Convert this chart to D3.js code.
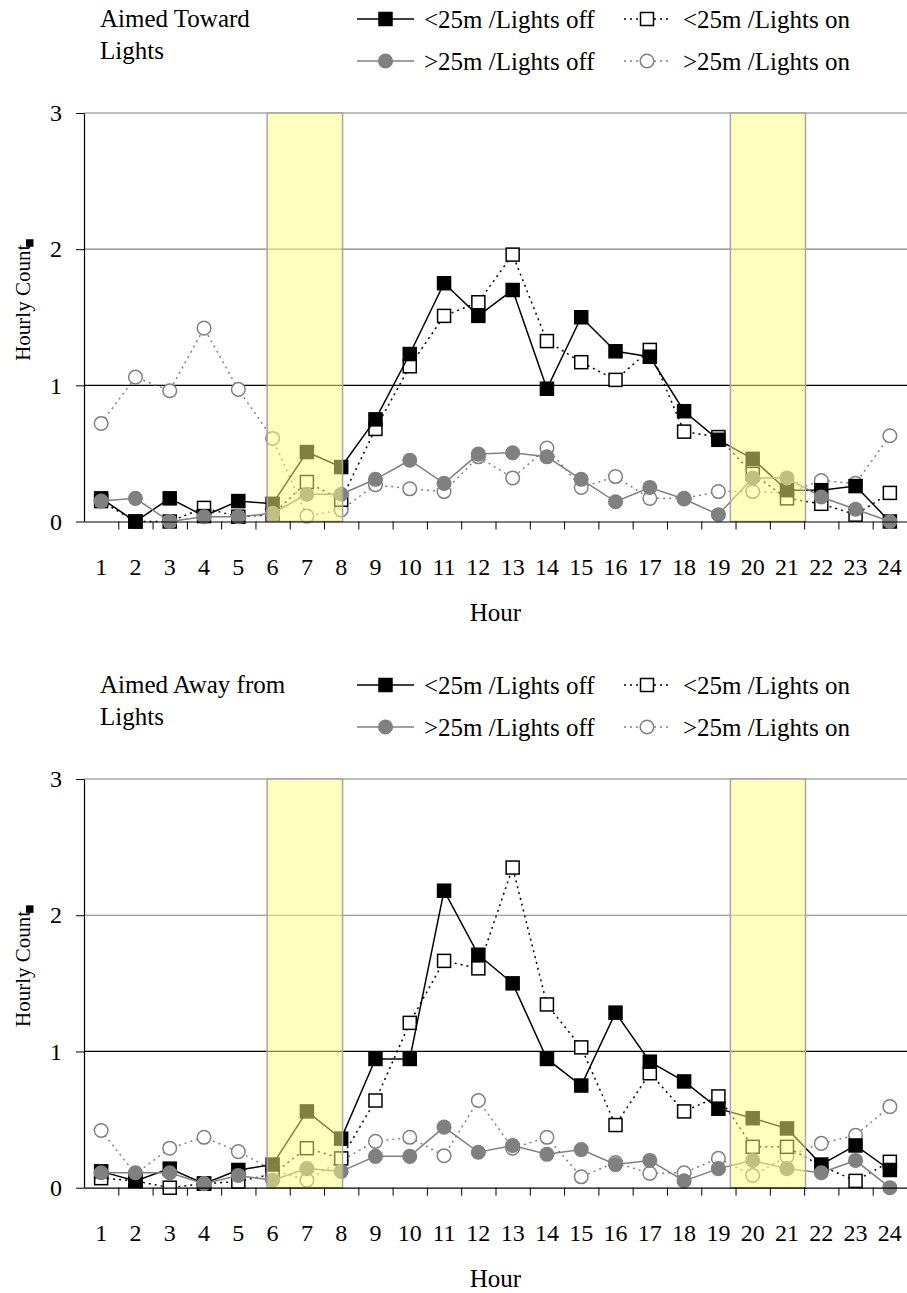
<!DOCTYPE html>
<html>
<head>
<meta charset="utf-8">
<script src="https://cdn.jsdelivr.net/npm/d3@7"></script>
<style>
  html, body { margin: 0; padding: 0; background: #fff; }
  svg { display: block; }
  text { font-family: "Liberation Serif", "Times New Roman", serif; fill: #000; }
</style>
</head>
<body>
<svg id="chart" width="907" height="1293"></svg>
<script>
// ---------- data ----------
const hours = d3.range(1, 25);
const seriesNames = ["<25m /Lights off", "<25m /Lights on", ">25m /Lights off", ">25m /Lights on"];

// Aimed Toward Lights
const towardNearOff = [0.17,0.00,0.17,0.04,0.15,0.13,0.51,0.40,0.75,1.23,1.75,1.51,1.70,0.975,1.50,1.25,1.21,0.81,0.60,0.46,0.23,0.23,0.26,0.00];
const towardNearOn  = [0.15,0.00,0.00,0.10,0.035,0.05,0.29,0.16,0.68,1.14,1.51,1.61,1.96,1.325,1.17,1.04,1.26,0.66,0.62,0.35,0.17,0.13,0.05,0.21];
const towardFarOff  = [0.15,0.17,0.00,0.035,0.035,0.06,0.20,0.20,0.31,0.45,0.28,0.495,0.505,0.475,0.31,0.145,0.25,0.165,0.05,0.32,0.32,0.18,0.09,0.00];
const towardFarOn   = [0.72,1.06,0.96,1.42,0.97,0.61,0.04,0.085,0.27,0.24,0.22,0.475,0.32,0.54,0.25,0.33,0.17,0.17,0.22,0.22,0.21,0.30,0.28,0.63];

// Aimed Away from Lights
const awayNearOff = [0.12,0.05,0.14,0.03,0.13,0.17,0.56,0.36,0.945,0.945,2.18,1.71,1.50,0.945,0.75,1.285,0.925,0.78,0.58,0.51,0.435,0.17,0.31,0.13];
const awayNearOn  = [0.07,0.05,0.00,0.03,0.045,0.10,0.29,0.215,0.64,1.21,1.665,1.61,2.35,1.345,1.03,0.46,0.84,0.56,0.67,0.30,0.30,0.16,0.05,0.19];
const awayFarOff  = [0.11,0.11,0.11,0.03,0.09,0.055,0.14,0.12,0.23,0.23,0.445,0.26,0.31,0.245,0.28,0.17,0.20,0.05,0.14,0.20,0.14,0.11,0.20,0.00];
const awayFarOn   = [0.42,0.10,0.29,0.37,0.265,0.13,0.055,0.20,0.34,0.37,0.235,0.64,0.29,0.37,0.08,0.185,0.105,0.11,0.215,0.09,0.23,0.325,0.385,0.595];

// shaded dawn / dusk periods (in hour-axis units)
const shadedPeriods = [[5.84, 8.04], [19.35, 21.54]];
const yTicks = [0, 1, 2, 3];

// ---------- drawing ----------
const svg = d3.select("#chart");
const FS = 25;      // legend / titles / axis title
const TFS = 24;     // tick labels
const YFS = 21;     // y axis title

const styles = [
  { marker: "square", fill: "#000", stroke: "#000", line: "#000", dash: null },
  { marker: "square", fill: "#fff", stroke: "#000", line: "#000", dash: "2,4" },
  { marker: "circle", fill: "#808080", stroke: "#808080", line: "#808080", dash: null },
  { marker: "circle", fill: "#fff", stroke: "#808080", line: "#808080", dash: "2,4" }
];
const drawOrder = [3, 1, 0, 2];

function drawMarker(g, type, cx, cy, st) {
  if (type === "square") {
    g.append("rect").attr("x", cx - 6.5).attr("y", cy - 6.5).attr("width", 13).attr("height", 13)
      .attr("fill", st.fill).attr("stroke", st.stroke).attr("stroke-width", 1.5);
  } else {
    g.append("circle").attr("cx", cx).attr("cy", cy).attr("r", 6.8)
      .attr("fill", st.fill).attr("stroke", st.stroke).attr("stroke-width", 1.5);
  }
}

function panel(opts) {
  const { top, bottom, left, right, data, title1, title2, legTop } = opts;
  const x = d3.scaleLinear().domain([0.5, 24.5]).range([left, right]);
  const y = d3.scaleLinear().domain([0, 3]).range([bottom, top]);
  const g = svg.append("g");

  // gridlines
  g.append("g").selectAll("line").data(yTicks.filter(d => d > 0)).join("line")
    .attr("x1", left).attr("x2", right)
    .attr("y1", d => y(d)).attr("y2", d => y(d))
    .attr("stroke", d => d === 1 ? "#000" : "#808080").attr("stroke-width", 1.2);

  // series
  const lineGen = d3.line().x((d, i) => x(hours[i])).y(d => y(d));
  drawOrder.forEach(si => {
    const st = styles[si];
    const sg = g.append("g");
    sg.append("path").datum(data[si]).attr("d", lineGen)
      .attr("fill", "none").attr("stroke", st.line).attr("stroke-width", 1.5)
      .attr("stroke-dasharray", st.dash);
    data[si].forEach((v, i) => drawMarker(sg, st.marker, x(hours[i]), y(v), st));
  });

  // shaded periods (semi-transparent, over the marks)
  g.append("g").selectAll("rect").data(shadedPeriods).join("rect")
    .attr("x", d => x(d[0])).attr("y", y(3))
    .attr("width", d => x(d[1]) - x(d[0])).attr("height", y(0) - y(3))
    .attr("fill", "#ffff80").attr("fill-opacity", 0.5)
    .attr("stroke", "#a6a6a6").attr("stroke-width", 1.5);

  // axes
  const xAxis = d3.axisBottom(x).tickValues(d3.range(1.5, 24.6, 1)).tickFormat("").tickSize(8).tickSizeOuter(0);
  const xa = g.append("g").attr("transform", `translate(0,${bottom})`).call(xAxis);
  xa.select(".domain").attr("stroke", "#000").attr("stroke-width", 1.2);
  xa.selectAll(".tick line").attr("stroke", "#000");

  g.append("g").selectAll("text").data(hours).join("text")
    .attr("x", d => x(d)).attr("y", bottom + 53)
    .attr("text-anchor", "middle").attr("font-size", TFS).text(d => d);

  g.append("text").attr("x", (left + right) / 2).attr("y", bottom + 99)
    .attr("text-anchor", "middle").attr("font-size", FS).text("Hour");

  const yAxis = d3.axisLeft(y).tickValues(yTicks).tickFormat(d3.format("d")).tickSize(8).tickSizeOuter(0);
  const ya = g.append("g").attr("transform", `translate(${left},0)`).call(yAxis);
  ya.select(".domain").attr("stroke", "#000").attr("stroke-width", 1.2);
  ya.selectAll(".tick line").attr("stroke", "#000");
  ya.selectAll(".tick text").attr("font-size", TFS).attr("font-family", "Liberation Serif")
    .attr("x", -22).attr("fill", "#000");

  const yMid = (top + bottom) / 2;
  g.append("text").attr("transform", `translate(30,${yMid - 14.5}) rotate(-90)`)
    .attr("text-anchor", "middle").attr("font-size", YFS).text("Hourly Count");
  g.append("rect").attr("x", 26).attr("y", yMid - 78).attr("width", 7.5).attr("height", 7.5).attr("fill", "#000");

  // legend
  g.append("text").attr("x", 100).attr("y", legTop + 8).attr("font-size", FS).text(title1);
  g.append("text").attr("x", 100).attr("y", legTop + 40).attr("font-size", FS).text(title2);
  const cols = [{ x1: 357, x2: 414, tx: 424 }, { x1: 624, x2: 670, tx: 683 }];
  const rows = [legTop, legTop + 42];
  seriesNames.forEach((name, i) => {
    const st = styles[i];
    const c = cols[i % 2], ly = rows[Math.floor(i / 2)];
    const lg = g.append("g");
    lg.append("line").attr("x1", c.x1).attr("x2", c.x2).attr("y1", ly).attr("y2", ly)
      .attr("stroke", st.line).attr("stroke-width", 1.5).attr("stroke-dasharray", st.dash);
    drawMarker(lg, st.marker, (c.x1 + c.x2) / 2, ly, st);
    lg.append("text").attr("x", c.tx).attr("y", ly + 8.5).attr("font-size", FS).text(name);
  });
}

panel({ top: 113, bottom: 521.5, left: 84, right: 907,
  data: [towardNearOff, towardNearOn, towardFarOff, towardFarOn],
  title1: "Aimed Toward", title2: "Lights", legTop: 19 });
panel({ top: 779, bottom: 1187.7, left: 84, right: 907,
  data: [awayNearOff, awayNearOn, awayFarOff, awayFarOn],
  title1: "Aimed Away from", title2: "Lights", legTop: 685 });
</script>
</body>
</html>
